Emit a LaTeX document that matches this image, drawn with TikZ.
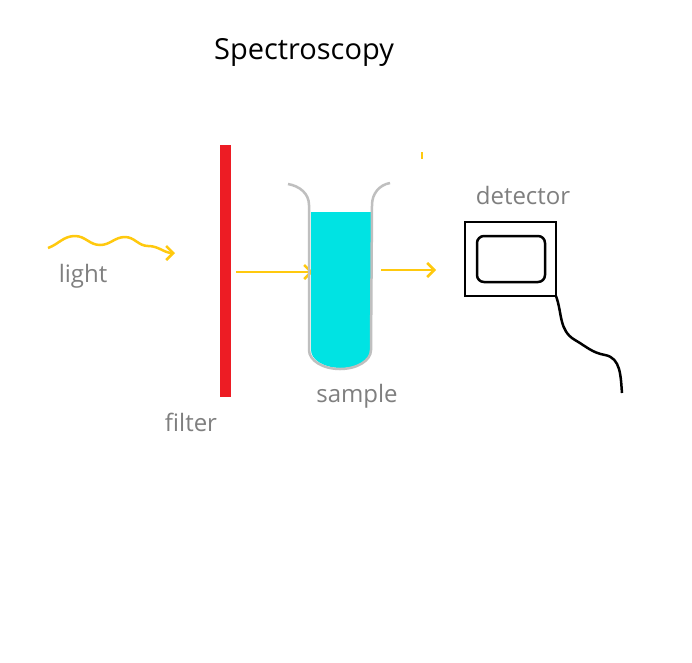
\documentclass[tikz,border=0pt]{standalone}
\usepackage{fontspec}
\setmainfont{Open Sans}
\usetikzlibrary{arrows.meta}
\definecolor{beam}{HTML}{FFC90E}
\definecolor{liquid}{HTML}{00E3E3}
\definecolor{filterred}{HTML}{ED1C24}
\definecolor{labelgray}{HTML}{7F7F7F}
\tikzset{
  label text/.style={text=labelgray, font=\fontsize{24}{28}\selectfont},
  ray/.style={beam, line width=2.5pt, -{Straight Barb[length=7pt,width=14pt]}},
}
\begin{document}
\begin{tikzpicture}[x=1pt,y=-1pt]
		\useasboundingbox[fill=white] (0,0) rectangle (692,662);
		%title
		\node[font=\fontsize{29}{34}\selectfont] (title) at (304,52) {Spectroscopy};
		%light
		\coordinate (lightstart) at (48,248);
		\coordinate (lightend) at (175,253);
		\draw[ray] (lightstart) to[out=20,in=180] (75,236) to[out=0,in=180] (100,245) to[out=0,in=180] (125,237) to[out=0,in=180] (148,246) to[out=0,in=180] (lightend);
		\node[label text] (light) at (83,276) {light};
		%filter
		\fill[filterred] (220,145) rectangle (231,397);
		\node[label text] (filter) at (191,422) {filter};
		%beams
		\coordinate (b1) at (236,272);
		\coordinate (b2) at (313,272);
		\coordinate (b3) at (381,270);
		\coordinate (b4) at (436,270);
		\draw[ray] (b1) -- (b2);
		\draw[ray] (b3) -- (b4);
		\draw[beam, line width=2.5pt] (422,152) -- (422,159);
		%sample
		\fill[liquid] (311,212) -- (371,212) -- (371,350) arc (0:180:30 and 18) -- cycle;
		\draw[gray!50, line width=2.5pt] (288,184) to[out=-10,in=90] (309,205) -- (309,350) arc (180:0:31 and 19) -- (372,205) to[out=90,in=190] (390,183);
		\node[label text] (sample) at (357,396) {sample};
		%detector
		\node[label text] (detlabel) at (523,195) {detector};
		\draw[line width=2.5pt] (465,222) rectangle (556,296);
		\draw[line width=2.5pt, rounded corners=7pt] (477,236) rectangle (545,282);
		\coordinate (plug) at (556,296);
		\draw[line width=2.5pt] (plug) to[out=-70,in=150] (575,340) to[out=-30,in=170] (605,355) to[out=-10,in=95] (622,393);
\end{tikzpicture}
\end{document}
